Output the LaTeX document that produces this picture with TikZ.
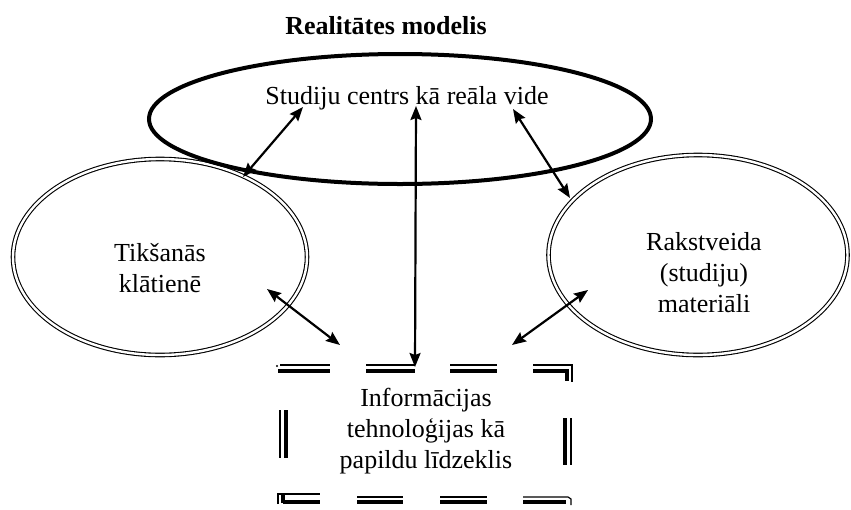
\documentclass[tikz,border=0pt]{standalone}
\usepackage{fontspec}
\setmainfont{Liberation Serif}
\usetikzlibrary{arrows.meta,shapes.geometric}
\begin{document}
\begin{tikzpicture}[x=1pt,y=-1pt,
  txt/.style={font=\fontsize{26}{31}\selectfont, align=center, inner sep=0pt},
  ell/.style={ellipse, inner sep=0pt},
  dbl/.style={draw, line width=1.1pt, double=white, double distance=2.4pt},
  conn/.style={line width=2.2pt, {Stealth[length=14pt,width=11pt,inset=2pt]}-{Stealth[length=14pt,width=11pt,inset=2pt]}},
  thk/.style={line width=4pt},
  thn/.style={line width=1.2pt}]
\useasboundingbox (0,0) rectangle (851,509);
% title
\node[font=\bfseries\fontsize{26}{30}\selectfont] (title) at (386,26) {Realitātes modelis};
% ellipses
\node[ell, dbl, minimum width=294pt, minimum height=196pt] (left) at (160,257) {};
\node[ell, dbl, minimum width=299pt, minimum height=200pt] (right) at (698,255) {};
\node[ell, draw, line width=4pt, minimum width=502pt, minimum height=130pt] (top) at (400,119) {};
% texts
\node[txt] (ttop) at (407,98) {Studiju centrs kā reāla vide};
\node[txt] (tleft) at (160,268) {Tikšanās\\klātienē};
\node[txt] (tright) at (704,273) {Rakstveida\\(studiju)\\materiāli};
\node[txt, minimum width=295pt, minimum height=141pt] (it) at (426,431) {Informācijas\\tehnoloģijas kā\\papildu līdzeklis};
% dashed double frame
\draw[thk] (278,371) -- (330,371);
\draw[thk] (366,371) -- (415,371);
\draw[thk] (450,371) -- (497,371);
\draw[thk] (533,371) -- (567,371) -- (567,381);
\draw[thn] (280,365) -- (330,365);
\fill (277,366) circle (1.2pt);
\draw[thn] (366,365) -- (415,365);
\draw[thn] (450,365) -- (497,365);
\draw[thn] (533,365) -- (572,365) -- (572,382);
\draw[thn] (280,410) -- (280,458);
\draw[thk] (286,410) -- (286,458);
\draw[thk] (565,418) -- (565,465);
\draw[thn] (571,418) -- (571,465);
\draw[thn] (278,504) -- (278,494) -- (320,494);
\draw[thk] (283,502) -- (320,502);
\draw[thk] (283,503) -- (283,494);
\draw[thk] (357,502) -- (403,502);
\draw[thn] (357,497) -- (403,497);
\draw[thk] (440,502) -- (487,502);
\draw[thn] (440,497) -- (487,497);
\draw[thk] (523,502) -- (566,502);
\draw[thn] (523,497) -- (568,497) -- (571,499) -- (571,505);
% connector end points
\coordinate (a1t) at (303,107);
\coordinate (a1b) at (243,177);
\coordinate (a2t) at (416,106);
\coordinate (a2b) at (415,367);
\coordinate (a3t) at (513,109);
\coordinate (a3b) at (570,198);
\coordinate (a4t) at (267,289);
\coordinate (a4b) at (340,345);
\coordinate (a5t) at (588,290);
\coordinate (a5b) at (512,345);
\draw[conn] (a1t) -- (a1b);
\draw[conn] (a2t) -- (a2b);
\draw[conn] (a3t) -- (a3b);
\draw[conn] (a4t) -- (a4b);
\draw[conn] (a5t) -- (a5b);
\end{tikzpicture}
\end{document}
